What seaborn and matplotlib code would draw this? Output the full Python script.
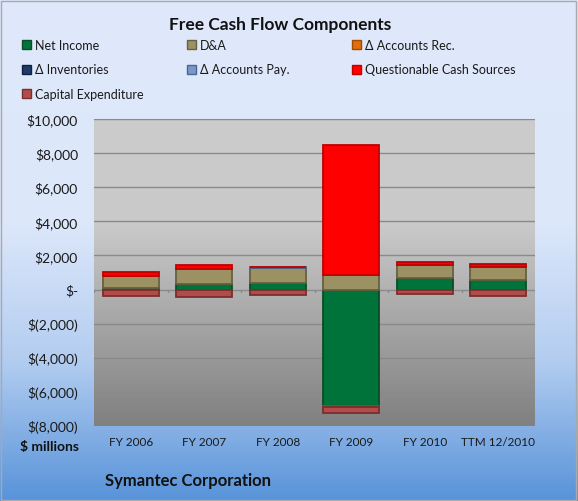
import numpy as np
import pandas as pd
import matplotlib
matplotlib.use("Agg")
import matplotlib.pyplot as plt
from matplotlib.colors import LinearSegmentedColormap
from matplotlib.patches import Patch, Rectangle
from matplotlib.ticker import FuncFormatter, FixedLocator
import seaborn as sns

# ---------------- data ($ millions) ----------------
categories = ["FY 2006", "FY 2007", "FY 2008", "FY 2009", "FY 2010", "TTM 12/2010"]
net_income = [100, 333, 390, -6806, 686, 549]
d_and_a = [690, 880, 880, 843, 745, 745]
accounts_rec = [0, 0, 0, -60, 0, 0]
inventories = [0, 0, 0, 0, 0, 0]
accounts_pay = [0, 0, 30, 0, 0, 0]
questionable = [240, 215, 0, 7608, 157, 196]
capex = [-390, -460, -290, -380, -275, -350]

series_names = ["Net Income", "D&A", "\u0394 Accounts Rec.", "\u0394 Inventories",
                "\u0394 Accounts Pay.", "Questionable Cash Sources", "Capital Expenditure"]
series_vals = [net_income, d_and_a, accounts_rec, inventories, accounts_pay, questionable, capex]
y_ticks = [10000, 8000, 6000, 4000, 2000, 0, -2000, -4000, -6000, -8000]

faces = ["#00733a", "#9c9162", "#e46c0a", "#1f3a68", "#7a98c8", "#ff0000", "#b24c4a"]
edges = ["#0b4d27", "#676040", "#a04b05", "#10223f", "#4b6592", "#c00000", "#7a2e2d"]

sns.set_theme(style="white")
plt.rcParams["font.family"] = ["Lato", "DejaVu Sans"]

W, H = 578, 502
fig = plt.figure(figsize=(W / 100, H / 100), dpi=100)

# figure background gradient
bg = fig.add_axes([0, 0, 1, 1], zorder=-10)
fig_cmap = LinearSegmentedColormap.from_list(
    "figbg", [(0.0, "#dfe9fb"), (0.45, "#dce7fa"), (0.72, "#b3cdf0"), (1.0, "#5893da")])
grad = np.linspace(0, 1, 256).reshape(-1, 1)
bg.imshow(grad, aspect="auto", cmap=fig_cmap, extent=(0, 1, 0, 1), origin="upper")
bg.set_axis_off()

ax = fig.add_axes([94 / W, 1 - 427 / H, (535 - 94) / W, (427 - 120) / H])
ax.set_facecolor("none")

# plot-area gradient
pa_cmap = LinearSegmentedColormap.from_list(
    "pabg", [(0.0, "#cccccc"), (0.35, "#c9c9c9"), (1.0, "#808080")])
ax.imshow(grad, aspect="auto", cmap=pa_cmap, extent=(-0.5, 5.5, -8000, 10000),
          origin="upper", zorder=0)

# gridlines
for t in y_ticks:
    if t != 0:
        ax.axhline(t, color="#8a8a8a", lw=1.0, zorder=1)

# stacked bars
pos_base = np.zeros(len(categories))
neg_base = np.zeros(len(categories))
for name, vals, fc, ec in zip(series_names, series_vals, faces, edges):
    v = np.array(vals, dtype=float)
    if np.all(v == 0):
        continue
    bottoms = np.where(v >= 0, pos_base, neg_base)
    df = pd.DataFrame({"cat": categories, "val": v})
    sns.barplot(data=df, x="cat", y="val", bottom=bottoms, color=fc, edgecolor=ec,
                linewidth=1.3, width=0.76, saturation=1, ax=ax, zorder=3)
    pos_base = np.where(v >= 0, pos_base + v, pos_base)
    neg_base = np.where(v < 0, neg_base + v, neg_base)

# category axis at zero
ax.axhline(0, color="#8a8a8a", lw=1.0, zorder=2)
for b in np.arange(-0.5, 6.0, 1.0):
    ax.plot([b, b], [0, -170], color="#8a8a8a", lw=1.0, zorder=2)

ax.set_xlim(-0.5, 5.5)
ax.set_ylim(-8000, 10000)
for s in ax.spines.values():
    s.set_visible(False)


def money(v, pos):
    v = int(round(v))
    if v == 0:
        return "$-"
    if v < 0:
        return "$({:,})".format(-v)
    return "${:,}".format(v)


ax.yaxis.set_major_locator(FixedLocator(y_ticks))
ax.yaxis.set_major_formatter(FuncFormatter(money))
ax.tick_params(axis="y", length=0, pad=11.5, labelsize=10, labelcolor="#1a1a1a")
ax.tick_params(axis="x", length=0, pad=7, labelsize=8.5, labelcolor="#1a1a1a")
ax.set_xlabel("")
ax.set_ylabel("")

# titles / texts
fig.text(280 / W, 1 - 25 / H, "Free Cash Flow Components", ha="center", va="center",
         fontsize=12.5, fontweight="bold", color="#111111")
fig.text(50 / W, 1 - 447 / H, "$ millions", ha="center", va="center",
         fontsize=10, fontweight="bold", color="#111111")
fig.text(105 / W, 1 - 481 / H, "Symantec Corporation", ha="left", va="center",
         fontsize=12, fontweight="bold", color="#111111")

# legend: three columns placed separately
columns = [[0, 3, 6], [1, 4], [2, 5]]
col_x = [22, 187, 352]
for cx, idxs in zip(col_x, columns):
    handles = [Patch(facecolor=faces[i], edgecolor=edges[i], linewidth=1.0,
                     label=series_names[i]) for i in idxs]
    fig.legend(handles=handles, loc="upper left",
               bbox_to_anchor=(cx / W, 1 - 40 / H), frameon=False,
               fontsize=9, handlelength=0.75, handleheight=0.75,
               handletextpad=0.3, labelspacing=1.0, borderpad=0, borderaxespad=0,
               labelcolor="#1a1a1a")

# outer border
fig.add_artist(Rectangle((0.001, 0.002), 0.996, 0.995, transform=fig.transFigure,
                         fill=False, edgecolor="#a9a9a9", lw=1.0))

fig.savefig("out.png", dpi=100)
